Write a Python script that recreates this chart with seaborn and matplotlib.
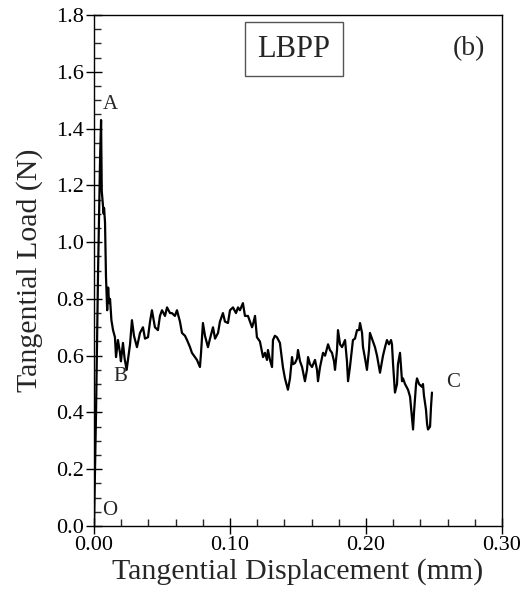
import matplotlib
matplotlib.use("Agg")
import matplotlib.pyplot as plt
import seaborn as sns
import pandas as pd
from matplotlib.ticker import MultipleLocator, FormatStrFormatter

disp_mm = [0.0, 0.0015, 0.003, 0.0045, 0.0052, 0.0057, 0.0064, 0.0071, 0.0074, 0.0081,
           0.0088, 0.0097, 0.0104, 0.0111, 0.0118, 0.0128, 0.0140, 0.0154, 0.0162, 0.0176,
           0.0191, 0.0198, 0.0213, 0.0225, 0.0240, 0.0250, 0.0265, 0.0279, 0.0294, 0.0316,
           0.0338, 0.0360, 0.0375, 0.0397, 0.0412, 0.0426, 0.0448, 0.0470, 0.0485, 0.0500,
           0.0522, 0.0537, 0.0559, 0.0573, 0.0595, 0.0610, 0.0632, 0.0647, 0.0669, 0.0684,
           0.0706, 0.0720, 0.0742, 0.0757, 0.0779, 0.0787, 0.0801, 0.0816, 0.0838, 0.0853,
           0.0875, 0.0890, 0.0912, 0.0926, 0.0948, 0.0963, 0.0985, 0.1000, 0.1022, 0.1044,
           0.1059, 0.1073, 0.1095, 0.1110, 0.1132, 0.1147, 0.1162, 0.1169, 0.1184, 0.1198,
           0.1220, 0.1243, 0.1257, 0.1272, 0.1279, 0.1294, 0.1309, 0.1316, 0.1330, 0.1345,
           0.1367, 0.1389, 0.1404, 0.1426, 0.1441, 0.1456, 0.1463, 0.1478, 0.1493, 0.1500,
           0.1515, 0.1530, 0.1551, 0.1566, 0.1574, 0.1588, 0.1603, 0.1625, 0.1640, 0.1647,
           0.1662, 0.1684, 0.1699, 0.1721, 0.1735, 0.1750, 0.1765, 0.1772, 0.1787, 0.1794,
           0.1809, 0.1824, 0.1846, 0.1860, 0.1868, 0.1882, 0.1904, 0.1919, 0.1934, 0.1949,
           0.1956, 0.1971, 0.1978, 0.1993, 0.2007, 0.2022, 0.2029, 0.2044, 0.2066, 0.2081,
           0.2103, 0.2125, 0.2140, 0.2154, 0.2169, 0.2184, 0.2191, 0.2199, 0.2213, 0.2228,
           0.2235, 0.2250, 0.2265, 0.2272, 0.2287, 0.2309, 0.2324, 0.2338, 0.2346, 0.2353,
           0.2368, 0.2375, 0.2390, 0.2412, 0.2419, 0.2426, 0.2441, 0.2449, 0.2456, 0.2471,
           0.2478, 0.2485]
load_N = [0.0, 0.40, 0.90, 1.30, 1.43, 1.18, 1.14, 1.10, 1.12, 1.07,
          0.88, 0.76, 0.84, 0.785, 0.80, 0.725, 0.69, 0.665, 0.595, 0.655,
          0.61, 0.58, 0.645, 0.59, 0.55, 0.585, 0.64, 0.725, 0.67, 0.63,
          0.68, 0.70, 0.66, 0.665, 0.72, 0.76, 0.70, 0.69, 0.74, 0.76,
          0.74, 0.77, 0.75, 0.75, 0.74, 0.76, 0.72, 0.68, 0.67, 0.655,
          0.63, 0.61, 0.595, 0.585, 0.56, 0.61, 0.715, 0.67, 0.63, 0.66,
          0.70, 0.66, 0.68, 0.72, 0.75, 0.72, 0.715, 0.76, 0.77, 0.75,
          0.77, 0.76, 0.785, 0.74, 0.74, 0.72, 0.70, 0.71, 0.74, 0.665,
          0.65, 0.595, 0.61, 0.585, 0.62, 0.585, 0.56, 0.655, 0.67, 0.665,
          0.645, 0.56, 0.52, 0.48, 0.52, 0.595, 0.57, 0.574, 0.59, 0.62,
          0.58, 0.56, 0.51, 0.55, 0.595, 0.57, 0.56, 0.585, 0.55, 0.51,
          0.56, 0.61, 0.60, 0.64, 0.62, 0.61, 0.58, 0.55, 0.62, 0.69,
          0.64, 0.63, 0.655, 0.58, 0.51, 0.56, 0.655, 0.66, 0.69, 0.69,
          0.715, 0.68, 0.63, 0.59, 0.55, 0.62, 0.68, 0.66, 0.63, 0.60,
          0.54, 0.60, 0.63, 0.655, 0.64, 0.655, 0.64, 0.57, 0.47, 0.50,
          0.57, 0.61, 0.51, 0.52, 0.50, 0.48, 0.455, 0.38, 0.34, 0.40,
          0.50, 0.52, 0.50, 0.49, 0.50, 0.46, 0.41, 0.36, 0.34, 0.35,
          0.42, 0.47]

annotations = [("A", 0.0118, 1.483), ("B", 0.0191, 0.528), ("C", 0.264, 0.504), ("O", 0.0118, 0.056)]
x_ticks = [0.00, 0.10, 0.20, 0.30]
y_ticks = [0.0, 0.2, 0.4, 0.6, 0.8, 1.0, 1.2, 1.4, 1.6, 1.8]

sns.set_style("ticks")
plt.rcParams["font.family"] = ["Liberation Serif", "DejaVu Serif"]

df = pd.DataFrame({"disp": disp_mm, "load": load_N})

fig = plt.figure(figsize=(5.29, 6.05), dpi=100)
ax = fig.add_axes([94 / 529, 1 - 526 / 605, (502 - 94) / 529, (526 - 15) / 605])
sns.lineplot(data=df, x="disp", y="load", sort=False, estimator=None,
             color="black", linewidth=1.6, ax=ax)

ax.set_xlim(0, 0.30)
ax.set_ylim(0, 1.8)
ax.set_xticks(x_ticks)
ax.set_yticks(y_ticks)
ax.xaxis.set_major_formatter(FormatStrFormatter("%.2f"))
ax.yaxis.set_major_formatter(FormatStrFormatter("%.1f"))
ax.xaxis.set_minor_locator(MultipleLocator(0.02))
ax.yaxis.set_minor_locator(MultipleLocator(0.05))
ax.tick_params(which="major", direction="inout", length=11, width=1.0, labelsize=16,
               colors="black", pad=2)
ax.tick_params(which="minor", direction="in", length=5, width=1.0)
ax.tick_params(top=False, right=False, which="both")
for s in ax.spines.values():
    s.set_visible(True)
    s.set_linewidth(1.0)
    s.set_color("black")

ax.set_xlabel("Tangential Displacement (mm)", fontsize=21.5, labelpad=2)
ax.set_ylabel("Tangential Load (N)", fontsize=21.5, labelpad=9)

for lab, xx, yy in annotations:
    ax.text(xx, yy, lab, fontsize=15, ha="center", va="center")

ax.text(0.147, 1.68, "LBPP", fontsize=22, ha="center", va="center",
        bbox=dict(boxstyle="square,pad=0.4", facecolor="white", edgecolor="#555555", linewidth=1.0))
ax.text(0.276, 1.68, "(b)", fontsize=20, ha="center", va="center")

fig.savefig("out.png", dpi=100)
